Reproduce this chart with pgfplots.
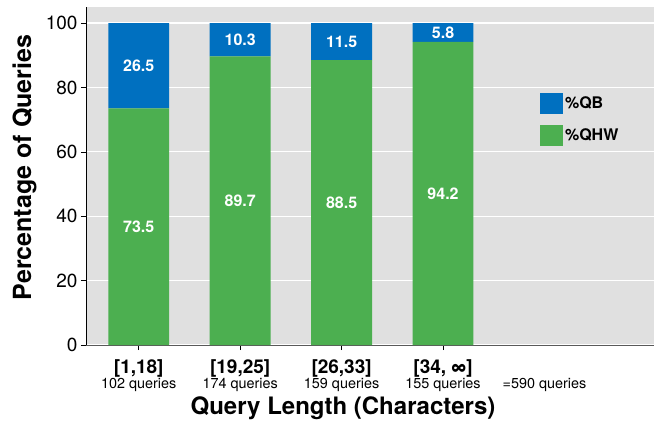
\documentclass[border=0pt]{standalone}
\usepackage{pgfplots}
\pgfplotsset{compat=1.18}
\usepackage{fontspec}
\setmainfont{TeX Gyre Heros}
\definecolor{qb}{RGB}{0,112,192}
\definecolor{qhw}{RGB}{76,175,80}
\definecolor{bg}{RGB}{224,224,224}
\newcommand{\catlab}[2]{{\bfseries\fontsize{19}{19}\selectfont #1}\\{\fontsize{14.4}{17}\selectfont #2}}
\begin{document}
\begin{tikzpicture}
\begin{axis}[name=ax, scale only axis, width=568pt, height=338pt,
  ybar stacked, bar width=0.6,
  xmin=-0.52, xmax=5.08, ymin=0, ymax=105,
  axis background/.style={fill=bg},
  axis x line*=bottom, axis y line*=left,
  x axis line style={draw=black!65, line width=0.8pt},
  y axis line style={draw=black, line width=0.8pt},
  ytick={0,20,...,100}, ymajorgrids,
  grid style={white, line width=1.2pt},
  xtick={0,1,2,3},
  xticklabels={\catlab{[1,18]}{102 queries},\catlab{[19,25]}{174 queries},\catlab{[26,33]}{159 queries},\catlab{[34, ∞]}{155 queries}},
  extra x ticks={4},
  extra x tick labels={\catlab{\vphantom{[}}{=590 queries}},
  extra x tick style={major tick style={draw=none}},
  tick align=outside, major tick length=5pt,
  tick style={black, line width=0.6pt},
  /pgf/number format/assume math mode=true,
  yticklabel style={font=\fontsize{19}{19}\selectfont},
  xticklabel style={align=center, inner sep=1pt, yshift=-8pt},
  ylabel={Percentage of Queries},
  ylabel style={at={(axis description cs:-0.0968,0.525)}, anchor=base, rotate=0, font=\bfseries\fontsize{25}{25}\selectfont},
  xlabel={Query Length (Characters)},
  xlabel style={at={(axis description cs:0.4525,-0.207)}, anchor=base, font=\bfseries\fontsize{24}{24}\selectfont},
  reverse legend,
  legend cell align=left,
  legend style={draw=none, fill=none, at={(axis description cs:0.799,0.7456)}, anchor=north west, inner sep=0pt, row sep=11pt, font=\bfseries\fontsize{16}{16}\selectfont},
  legend image code/.code={\fill[#1] (0pt,-10.5pt) rectangle (23pt,10.5pt);},
  nodes near coords={\pgfmathprintnumber[fixed,fixed zerofill,precision=1]{\pgfplotspointmeta}},
  point meta=rawy,
  every node near coord/.append style={anchor=center, text=white, font=\bfseries\fontsize{16}{16}\selectfont},
]
\addplot[fill=qhw, draw=none] coordinates {(0,73.5) (1,89.7) (2,88.5) (3,94.2)};
\addlegendentry{\%QHW}
\addplot[fill=qb, draw=none] coordinates {(0,26.5) (1,10.3) (2,11.5) (3,5.8)};
\addlegendentry{\%QB}
\end{axis}
\pgfresetboundingbox
\path[use as bounding box] ([xshift=-86pt,yshift=-76pt]ax.south west) rectangle ([yshift=7pt]ax.north east);
\end{tikzpicture}
\end{document}
